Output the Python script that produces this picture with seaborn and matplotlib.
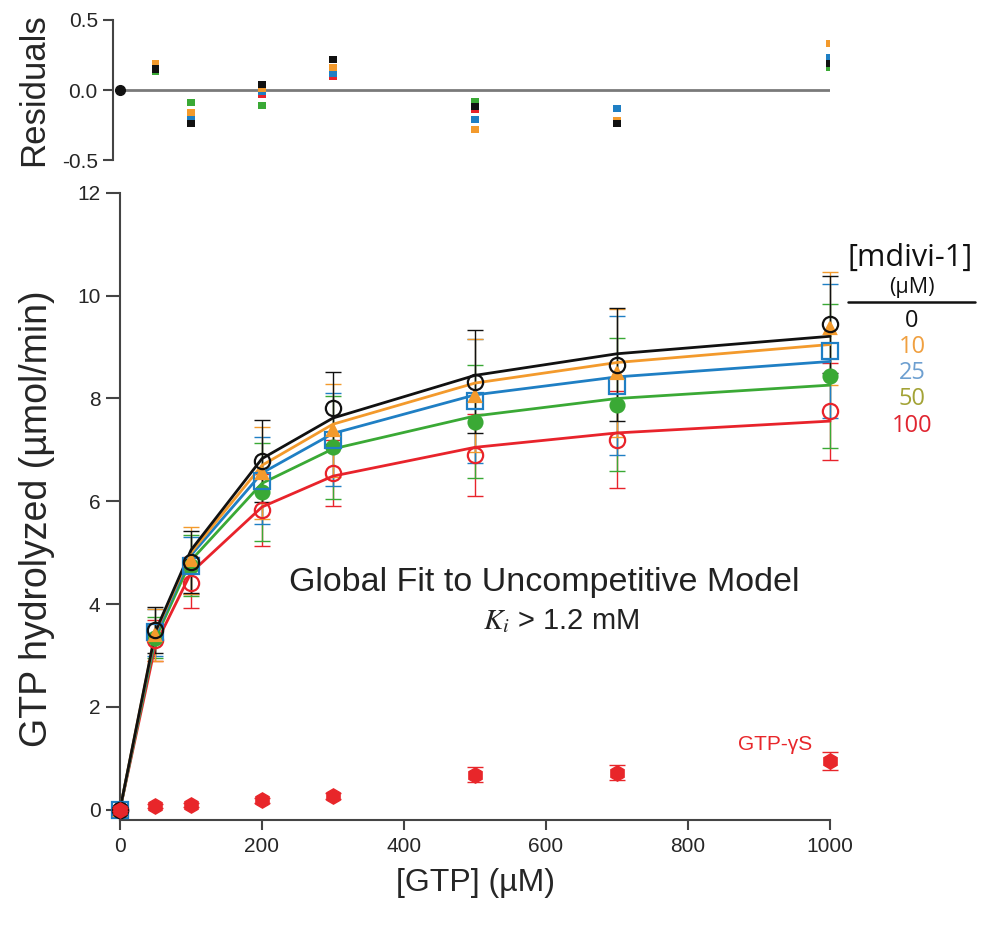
import numpy as np
import pandas as pd
import matplotlib
matplotlib.use("Agg")
import matplotlib.pyplot as plt
from matplotlib.lines import Line2D
import seaborn as sns

# ---------------- data ----------------
gtp = [0, 50, 100, 200, 300, 500, 700, 1000]
conc_labels = ["0", "10", "25", "50", "100"]

rate_0 = [0, 3.49, 4.82, 6.78, 7.82, 8.33, 8.66, 9.44]
rate_10 = [0, 3.40, 4.85, 6.55, 7.38, 8.05, 8.50, 9.37]
rate_25 = [0, 3.45, 4.75, 6.40, 7.20, 7.95, 8.25, 8.92]
rate_50 = [0, 3.35, 4.75, 6.18, 7.05, 7.55, 7.88, 8.43]
rate_100 = [0, 3.30, 4.42, 5.83, 6.55, 6.90, 7.20, 7.75]

err_0 = [0, 0.45, 0.60, 0.80, 0.70, 1.00, 1.10, 0.95]
err_10 = [0, 0.50, 0.65, 0.90, 0.90, 1.10, 1.25, 1.10]
err_25 = [0, 0.45, 0.55, 0.85, 0.90, 1.20, 1.35, 1.30]
err_50 = [0, 0.40, 0.60, 0.95, 1.00, 1.10, 1.30, 1.40]
err_100 = [0, 0.40, 0.50, 0.70, 0.65, 0.80, 0.95, 0.95]

fit_0 = [0, 3.47, 5.05, 6.83, 7.62, 8.45, 8.87, 9.21]
fit_10 = [0, 3.45, 5.00, 6.70, 7.50, 8.30, 8.70, 9.05]
fit_25 = [0, 3.40, 4.95, 6.55, 7.32, 8.07, 8.42, 8.72]
fit_50 = [0, 3.33, 4.85, 6.35, 7.02, 7.66, 8.00, 8.26]
fit_100 = [0, 3.21, 4.61, 5.89, 6.49, 7.05, 7.33, 7.56]

res_0 = [0, 0.15, -0.24, 0.04, 0.22, -0.12, -0.24, 0.19]
res_10 = [0, 0.19, -0.16, 0.01, 0.16, -0.28, -0.22, 0.33]
res_25 = [0, 0.16, -0.19, -0.01, 0.12, -0.21, -0.13, 0.23]
res_50 = [0, 0.13, -0.09, -0.11, 0.14, -0.08, -0.23, 0.16]
res_100 = [0, 0.17, -0.21, -0.03, 0.10, -0.14, -0.22, 0.20]

gtpgs_rate = [0.0, 0.08, 0.10, 0.18, 0.27, 0.68, 0.72, 0.95]
gtpgs_err = [0.03, 0.04, 0.04, 0.05, 0.06, 0.15, 0.15, 0.18]

x_ticks = [0, 200, 400, 600, 800, 1000]
y_ticks = [0, 2, 4, 6, 8, 10, 12]
res_ticks = [-0.5, 0.0, 0.5]

# ---------------- styles ----------------
colors = {"0": "#111111", "10": "#f39a2c", "25": "#1f7fc4",
          "50": "#3aa935", "100": "#e8232b"}
legend_colors = {"0": "#111111", "10": "#f0a040", "25": "#6d9fd0",
                 "50": "#a3a336", "100": "#e02530"}
markers = {"0": ("o", "none", 11), "10": ("^", "fill", 8), "25": ("s", "none", 11),
           "50": ("o", "fill", 10), "100": ("o", "none", 11)}

rates = dict(zip(conc_labels, [rate_0, rate_10, rate_25, rate_50, rate_100]))
errs = dict(zip(conc_labels, [err_0, err_10, err_25, err_50, err_100]))
fits = dict(zip(conc_labels, [fit_0, fit_10, fit_25, fit_50, fit_100]))
resids = dict(zip(conc_labels, [res_0, res_10, res_25, res_50, res_100]))

sns.set_theme(style="white")
plt.rcParams["font.family"] = ["Liberation Sans", "DejaVu Sans"]
plt.rcParams["mathtext.fontset"] = "stix"

fig = plt.figure(figsize=(9.81, 9.25), dpi=100)
fig.patch.set_facecolor("white")
ax = fig.add_axes([0.1223, 0.1135, 0.7238, 0.678])
axr = fig.add_axes([0.1223, 0.827, 0.7238, 0.1514])

draw_order = ["100", "50", "25", "10", "0"]

# error bars
for c in draw_order:
    ax.errorbar(gtp, rates[c], yerr=errs[c], fmt="none", ecolor=colors[c],
                elinewidth=1.0, capsize=6, capthick=1.0, clip_on=False, zorder=2)

# fit lines via seaborn
fit_df = pd.DataFrame({
    "GTP": gtp * len(conc_labels),
    "fit": sum([fits[c] for c in conc_labels], []),
    "mdivi": sum([[c] * len(gtp) for c in conc_labels], []),
})
sns.lineplot(data=fit_df, x="GTP", y="fit", hue="mdivi", hue_order=draw_order,
             palette=colors, sort=False, estimator=None, linewidth=2.0,
             legend=False, ax=ax, zorder=3)
for ln in ax.get_lines():
    ln.set_clip_on(False)

# data markers
for c in draw_order:
    m, style, ms = markers[c]
    fc = colors[c] if style == "fill" else "none"
    ax.plot(gtp, rates[c], linestyle="none", marker=m, markersize=ms,
            markerfacecolor=fc, markeredgecolor=colors[c], markeredgewidth=1.6,
            clip_on=False, zorder=4)

# GTP-gammaS
ax.errorbar(gtp, gtpgs_rate, yerr=gtpgs_err, fmt="h", color="#e8262a",
            markersize=11, elinewidth=1.0, capsize=6, capthick=1.0,
            markeredgecolor="#e8262a", clip_on=False, zorder=5)

ax.set_xlim(0, 1000)
ax.set_ylim(-0.2, 12)
ax.set_xticks(x_ticks)
ax.set_yticks(y_ticks)
ax.set_xticklabels([str(t) for t in x_ticks])
ax.set_yticklabels([str(t) for t in y_ticks])
for s in ["top", "right"]:
    ax.spines[s].set_visible(False)
for s in ["left", "bottom"]:
    ax.spines[s].set_color("#444444")
    ax.spines[s].set_linewidth(1.5)
ax.tick_params(axis="x", direction="out", length=7, width=1.5, color="#444444",
               labelsize=15, pad=5, bottom=True)
ax.tick_params(axis="y", direction="out", length=10, width=1.5, color="#444444",
               labelsize=15, pad=4, left=True)
ax.set_xlabel("[GTP] (\u00b5M)", fontsize=23, labelpad=9)
ax.set_ylabel("GTP hydrolyzed (\u00b5mol/min)", fontsize=27)
ax.yaxis.set_label_coords(-0.092, 0.48)

ax.text(598, 4.42, "Global Fit to Uncompetitive Model", ha="center", va="center",
        fontsize=24.5, color="#222222")
ax.text(622, 3.66, r"$K_i$ > 1.2 mM", ha="center", va="center",
        fontsize=21, color="#222222")
ax.text(923, 1.26, "GTP-\u03b3S", ha="center", va="center", fontsize=15,
        color="#e8262a")

# residuals
res_df = pd.DataFrame({
    "GTP": sum([gtp[1:] for c in draw_order], []),
    "res": sum([resids[c][1:] for c in draw_order], []),
    "mdivi": sum([[c] * (len(gtp) - 1) for c in draw_order], []),
})
axr.axhline(0, color="#7a7a7a", linewidth=2, zorder=1)
sns.scatterplot(data=res_df, x="GTP", y="res", hue="mdivi", palette=colors,
                marker="s", s=26, linewidth=0, legend=False, ax=axr, zorder=3)
axr.plot([gtp[0]], [res_0[0]], marker="o", markersize=7, color="#111111",
         linestyle="none", clip_on=False, zorder=4)
axr.set_xlim(0, 1000)
axr.set_ylim(-0.5, 0.5)
axr.set_yticks(res_ticks)
axr.set_yticklabels(["-0.5", "0.0", "0.5"])
axr.set_xticks([])
axr.set_xlabel("")
axr.set_ylabel("Residuals", fontsize=25)
axr.yaxis.set_label_coords(-0.099, 0.5)
for s in ["top", "right", "bottom"]:
    axr.spines[s].set_visible(False)
axr.spines["left"].set_color("#444444")
axr.spines["left"].set_linewidth(1.5)
axr.spines["left"].set_position(("outward", 5))
axr.tick_params(axis="y", direction="out", length=7, width=1.5, color="#444444",
                labelsize=15, pad=4, left=True)
axr.patch.set_alpha(0)

# legend table
lf = ["Open Sans", "DejaVu Sans"]
fig.text(910 / 981, 1 - 258 / 925, "[mdivi-1]", ha="center", va="center",
         fontsize=22, family=lf, color="#111111")
fig.text(912 / 981, 1 - 287 / 925, "(\u00b5M)", ha="center", va="center",
         fontsize=15.5, family=lf, color="#111111")
fig.add_artist(Line2D([848 / 981, 975 / 981], [1 - 302 / 925] * 2,
                      transform=fig.transFigure, color="#111111", linewidth=1.8))
ys = [321, 347, 373, 399, 426]
for c, yy in zip(conc_labels, ys):
    fig.text(912 / 981, 1 - yy / 925, c, ha="center", va="center",
             fontsize=17, family=lf, color=legend_colors[c])

fig.savefig("out.png", dpi=100, facecolor="white")
